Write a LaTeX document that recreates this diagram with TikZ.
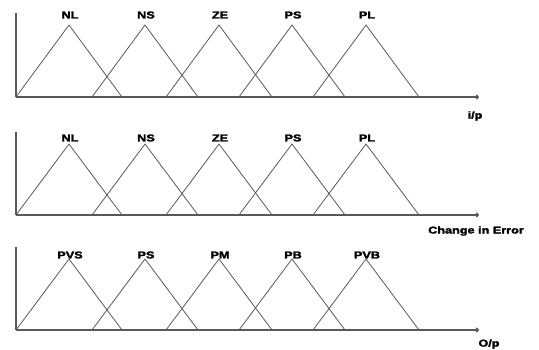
\documentclass[tikz,border=0pt]{standalone}
\usepackage{fontspec}
\setmainfont{Liberation Sans}
\newfontfamily\heavyfont{Liberation Sans}[BoldFeatures={FakeBold=2}]
\usetikzlibrary{arrows.meta}
\begin{document}
\begin{tikzpicture}[x=1bp,y=-1bp,
  mf/.style={draw=black!65,line width=0.8bp},
  axis/.style={draw=black!65,line width=1.1bp},
  axisarr/.style={axis,-{To[length=3bp,width=5bp]}},
  lbl/.style={font=\heavyfont\bfseries\fontsize{10}{11}\selectfont,inner sep=0pt,xscale=1.27},
  ttl/.style={font=\heavyfont\bfseries\fontsize{10}{11}\selectfont,inner sep=0pt,xscale=1.27}]
\useasboundingbox (0,0) rectangle (539,349);
\foreach \p/\base/\peak/\top/\ly/\la/\lb/\lc/\ld/\le in
  {1/97/25/13/15/NL/NS/ZE/PS/PL,
   2/215/144/132/138/NL/NS/ZE/PS/PL,
   3/330/259/247/255/PVS/PS/PM/PB/PVB}{
  \coordinate (o\p) at (16,\base);
  \coordinate (t\p) at (16,\top);
  \coordinate (e\p) at (479,\base);
  \draw[axis] (o\p) -- (t\p);
  \draw[axisarr] (o\p) -- (e\p);
  \foreach \c/\l [count=\i] in {69/\la,145/\lb,219/\lc,292/\ld,366/\le}{
    \coordinate (l\p\i) at (\c-53,\base);
    \coordinate (m\p\i) at (\c,\peak);
    \coordinate (r\p\i) at (\c+53,\base);
    \draw[mf] (l\p\i) -- (m\p\i) -- (r\p\i);
    \node[lbl] (n\p\i) at (\c+1,\ly) {\l};
  }
}
\node[ttl] (x1) at (475,116) {i/p};
\node[ttl] (x2) at (476,231) {Change in Error};
\node[ttl] (x3) at (489,344) {O/p};
\end{tikzpicture}
\end{document}
